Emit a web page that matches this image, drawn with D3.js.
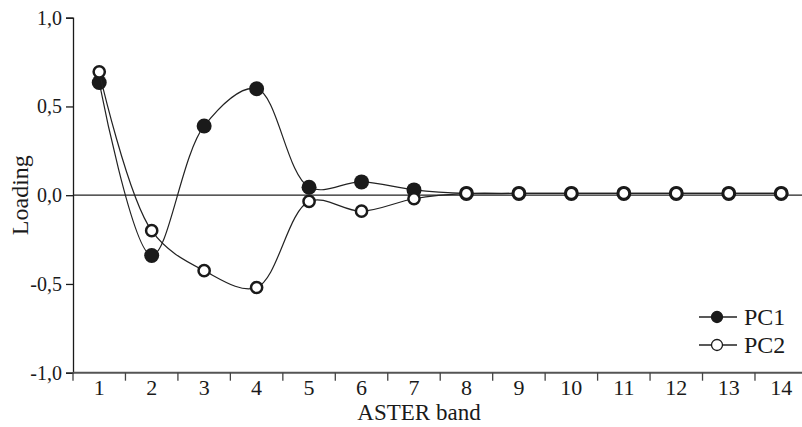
<!DOCTYPE html>
<html>
<head>
<meta charset="utf-8">
<script src="https://cdn.jsdelivr.net/npm/d3@7"></script>
<style>
  body { margin: 0; background: #fff; }
  text { font-family: "Liberation Serif", "Times New Roman", serif; fill: #1a1a1a; }
</style>
</head>
<body>
<div id="chart"></div>
<script>
// ASTER bands and PCA loadings
const bands = [1, 2, 3, 4, 5, 6, 7, 8, 9, 10, 11, 12, 13, 14];
const pc1 = [0.635, -0.34, 0.39, 0.60, 0.045, 0.075, 0.03, 0.01, 0.01, 0.01, 0.01, 0.01, 0.01, 0.01];
const pc2 = [0.695, -0.20, -0.425, -0.52, -0.035, -0.09, -0.02, 0.01, 0.01, 0.01, 0.01, 0.01, 0.01, 0.01];
const yTicks = [-1, -0.5, 0, 0.5, 1];

const svgWidth = 802, svgHeight = 427;
const margin = { top: 18, left: 73, bottom: 55 };

const svg = d3.select("#chart").append("svg")
  .attr("width", svgWidth)
  .attr("height", svgHeight);

// band scale runs a little past the right edge, like the original
const x = d3.scaleBand()
  .domain(bands)
  .range([margin.left, margin.left + 14 * 52.46]);

const y = d3.scaleLinear()
  .domain([-1, 1])
  .range([372.7, 17.7]);

const fmt = d => d3.format(".1f")(d).replace(".", ",").replace("−", "-");

// y axis
const yAxis = svg.append("g")
  .attr("transform", `translate(${margin.left},0)`)
  .call(d3.axisLeft(y).tickValues(yTicks).tickSize(7).tickPadding(4).tickFormat(fmt));
yAxis.select(".domain").attr("stroke", "#1a1a1a").attr("stroke-width", 1.3);
yAxis.selectAll(".tick line").attr("stroke", "#1a1a1a").attr("stroke-width", 1.3);
yAxis.selectAll("text").style("font-size", "20px").attr("fill", "#1a1a1a");

// x axis with ticks on band boundaries
const xg = svg.append("g").attr("transform", `translate(0,${y(-1)})`);
xg.append("line")
  .attr("x1", margin.left).attr("x2", svgWidth)
  .attr("stroke", "#555").attr("stroke-width", 2);
xg.selectAll(".xt")
  .data(bands)
  .enter().append("line")
  .attr("x1", d => x(d)).attr("x2", d => x(d))
  .attr("y1", 0).attr("y2", 8)
  .attr("stroke", "#444").attr("stroke-width", 1.3);
xg.selectAll(".xl")
  .data(bands)
  .enter().append("text")
  .attr("x", d => x(d) + x.bandwidth() / 2)
  .attr("y", 22.5)
  .attr("text-anchor", "middle")
  .style("font-size", "22px")
  .text(d => d);

// zero line
svg.append("line")
  .attr("x1", margin.left).attr("x2", svgWidth)
  .attr("y1", y(0)).attr("y2", y(0))
  .attr("stroke", "#222").attr("stroke-width", 1.2);

const cx = i => x(bands[i]) + x.bandwidth() / 2;
const line = d3.line()
  .x((d, i) => cx(i))
  .y(d => y(d))
  .curve(d3.curveCatmullRom.alpha(0.5));

// PC1 filled
svg.append("path")
  .datum(pc1)
  .attr("d", line)
  .attr("fill", "none")
  .attr("stroke", "#222")
  .attr("stroke-width", 1.2);
svg.selectAll(".pc1")
  .data(pc1)
  .enter().append("circle")
  .attr("cx", (d, i) => cx(i))
  .attr("cy", d => y(d))
  .attr("r", 7.5)
  .attr("fill", "#1a1a1a");

// PC2 open
svg.append("path")
  .datum(pc2)
  .attr("d", line)
  .attr("fill", "none")
  .attr("stroke", "#222")
  .attr("stroke-width", 1.2);
svg.selectAll(".pc2")
  .data(pc2)
  .enter().append("circle")
  .attr("cx", (d, i) => cx(i))
  .attr("cy", d => y(d))
  .attr("r", 5.6)
  .attr("fill", "#fff")
  .attr("stroke", "#1a1a1a")
  .attr("stroke-width", 2.5);

// legend
const legend = [
  { name: "PC1", fill: "#1a1a1a", y: 317 },
  { name: "PC2", fill: "#fff", y: 345 }
];
const lg = svg.selectAll(".legend")
  .data(legend)
  .enter().append("g")
  .attr("transform", d => `translate(699,${d.y})`);
lg.append("line")
  .attr("x1", 0).attr("x2", 38)
  .attr("stroke", "#222").attr("stroke-width", 1.3);
lg.append("circle")
  .attr("cx", 18).attr("r", 5.5)
  .attr("fill", d => d.fill)
  .attr("stroke", "#1a1a1a").attr("stroke-width", 1.3);
lg.append("text")
  .attr("x", 45).attr("y", 8)
  .style("font-size", "24px")
  .text(d => d.name);

// axis titles
svg.append("text")
  .attr("x", 419).attr("y", 420)
  .attr("text-anchor", "middle")
  .style("font-size", "23px")
  .text("ASTER band");

svg.append("text")
  .attr("transform", `translate(28,${y(0)}) rotate(-90)`)
  .attr("text-anchor", "middle")
  .style("font-size", "24px")
  .text("Loading");
</script>
</body>
</html>
